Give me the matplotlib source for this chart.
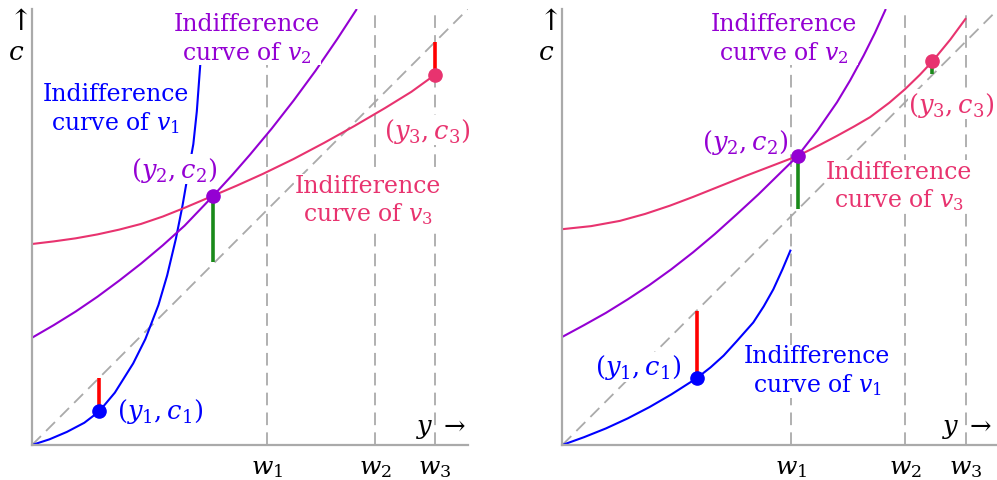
import matplotlib.pyplot as plt

plt.rcParams["font.family"] = ["DejaVu Serif"]
plt.rcParams["mathtext.fontset"] = "dejavuserif"

BLUE = "#0000ff"
PURPLE = "#9400d3"
PINK = "#e8336f"
RED = "#ff0000"
GREEN = "#1a8a1a"
GRAY = "#aaaaaa"

w_labels = ["$w_1$", "$w_2$", "$w_3$"]

# ---- left panel (unit square) ----
L_w = [0.538, 0.787, 0.924]
L_v1_x = [0.0, 0.04, 0.08, 0.12, 0.154, 0.19, 0.232, 0.26, 0.29, 0.31, 0.33, 0.345, 0.358, 0.370, 0.378, 0.385, 0.392]
L_v1_y = [0.0, 0.013, 0.030, 0.051, 0.077, 0.120, 0.187, 0.243, 0.321, 0.389, 0.473, 0.548, 0.623, 0.690, 0.765, 0.860, 0.950]
L_v2_x = [0.0, 0.05, 0.10, 0.15, 0.20, 0.25, 0.30, 0.35, 0.416, 0.46, 0.50, 0.55, 0.60, 0.65, 0.70, 0.745]
L_v2_y = [0.246, 0.275, 0.306, 0.340, 0.377, 0.416, 0.458, 0.503, 0.572, 0.620, 0.666, 0.726, 0.790, 0.858, 0.931, 1.0]
L_v3_x = [0.0, 0.05, 0.10, 0.15, 0.20, 0.25, 0.30, 0.35, 0.416, 0.47, 0.53, 0.60, 0.67, 0.74, 0.81, 0.87, 0.924]
L_v3_y = [0.461, 0.467, 0.474, 0.483, 0.494, 0.507, 0.524, 0.544, 0.572, 0.595, 0.622, 0.656, 0.693, 0.732, 0.773, 0.810, 0.849]
L_pts_x = [0.154, 0.416, 0.924]
L_pts_y = [0.077, 0.572, 0.849]
L_seg_top = [0.154, 0.419, 0.925]
L_seg_col = [RED, GREEN, RED]

# ---- right panel ----
R_w = [0.524, 0.786, 0.926]
R_v1_x = [0.0, 0.05, 0.10, 0.15, 0.20, 0.25, 0.308, 0.34, 0.37, 0.40, 0.438, 0.462, 0.484, 0.505, 0.524]
R_v1_y = [0.0, 0.018, 0.038, 0.061, 0.087, 0.116, 0.153, 0.178, 0.205, 0.238, 0.281, 0.318, 0.357, 0.403, 0.448]
R_v2_x = [0.0, 0.05, 0.10, 0.15, 0.20, 0.25, 0.30, 0.35, 0.40, 0.45, 0.50, 0.54, 0.585, 0.63, 0.66, 0.691, 0.717, 0.742]
R_v2_y = [0.248, 0.275, 0.303, 0.334, 0.367, 0.403, 0.442, 0.484, 0.529, 0.575, 0.624, 0.663, 0.721, 0.786, 0.836, 0.893, 0.945, 1.0]
R_v3_x = [0.0, 0.066, 0.132, 0.19, 0.247, 0.30, 0.36, 0.42, 0.48, 0.54, 0.59, 0.63, 0.67, 0.706, 0.75, 0.786, 0.82, 0.849, 0.89, 0.926]
R_v3_y = [0.495, 0.502, 0.514, 0.530, 0.549, 0.569, 0.593, 0.617, 0.640, 0.663, 0.688, 0.709, 0.731, 0.752, 0.785, 0.816, 0.849, 0.880, 0.930, 0.979]
R_pts_x = [0.308, 0.540, 0.849]
R_pts_y = [0.153, 0.663, 0.880]
R_seg_top = [0.308, 0.541, 0.851]
R_seg_col = [RED, GREEN, GREEN]

fig = plt.figure(figsize=(9.97, 4.81), dpi=100)
axL = fig.add_axes([32 / 997, 35 / 481, 436 / 997, 436 / 481])
axR = fig.add_axes([562.3 / 997, 35 / 481, 436 / 997, 436 / 481])


def draw_panel(ax, w, v1, v2, v3, pts_x, pts_y, seg_top, seg_col):
    ax.set_xlim(0, 1)
    ax.set_ylim(0, 1)
    ax.set_xticks([])
    ax.set_yticks([])
    for s in ["top", "right"]:
        ax.spines[s].set_visible(False)
    for s in ["left", "bottom"]:
        ax.spines[s].set_color(GRAY)
        ax.spines[s].set_linewidth(1.6)
    dash = dict(color=GRAY, lw=1.3, dashes=(7, 4), zorder=1)
    ax.plot([0, 1], [0, 1], **dash)
    for xi, lab in zip(w, w_labels):
        ax.plot([xi, xi], [0, 1], **dash)
        ax.text(xi, -0.052, lab, ha="center", va="center", fontsize=18, clip_on=False)
    for (cx, cy), col in zip([v1, v2, v3], [BLUE, PURPLE, PINK]):
        ax.plot(cx, cy, color=col, lw=1.5, zorder=2, solid_capstyle="butt")
    for xi, yi, top, col in zip(pts_x, pts_y, seg_top, seg_col):
        ax.plot([xi, xi], [yi, top], color=col, lw=2.6, zorder=3, solid_capstyle="butt")
    for xi, yi, col in zip(pts_x, pts_y, [BLUE, PURPLE, PINK]):
        ax.plot(xi, yi, "o", color=col, ms=9.5, zorder=5)
    ax.text(-0.037, 0.972, r"$\uparrow$", ha="center", va="center", fontsize=21, clip_on=False)
    ax.text(-0.037, 0.902, "$c$", ha="center", va="center", fontsize=19, clip_on=False)


def label(ax, x, y, s, col, size=17):
    ax.text(x, y, s, color=col, ha="center", va="center", fontsize=size, zorder=4,
            bbox=dict(facecolor="white", edgecolor="none", pad=0.5), clip_on=False)


draw_panel(axL, L_w, (L_v1_x, L_v1_y), (L_v2_x, L_v2_y), (L_v3_x, L_v3_y),
           L_pts_x, L_pts_y, L_seg_top, L_seg_col)
label(axL, 0.493, 0.933, "Indifference\ncurve of $v_2$", PURPLE)
label(axL, 0.192, 0.771, "Indifference\ncurve of $v_1$", BLUE)
label(axL, 0.326, 0.633, "$(y_2, c_2)$", PURPLE, 18.5)
label(axL, 0.295, 0.078, "$(y_1, c_1)$", BLUE, 18.5)
label(axL, 0.906, 0.722, "$(y_3, c_3)$", PINK, 18.5)
label(axL, 0.771, 0.562, "Indifference\ncurve of $v_3$", PINK)
axL.text(0.938, 0.041, r"$y\;\rightarrow$", ha="center", va="center", fontsize=18.5)

draw_panel(axR, R_w, (R_v1_x, R_v1_y), (R_v2_x, R_v2_y), (R_v3_x, R_v3_y),
           R_pts_x, R_pts_y, R_seg_top, R_seg_col)
label(axR, 0.508, 0.933, "Indifference\ncurve of $v_2$", PURPLE)
label(axR, 0.419, 0.695, "$(y_2, c_2)$", PURPLE, 18.5)
label(axR, 0.893, 0.782, "$(y_3, c_3)$", PINK, 18.5)
label(axR, 0.772, 0.594, "Indifference\ncurve of $v_3$", PINK)
label(axR, 0.174, 0.179, "$(y_1, c_1)$", BLUE, 18.5)
label(axR, 0.584, 0.170, "Indifference\ncurve of $v_1$", BLUE)
axR.text(0.927, 0.041, r"$y\;\rightarrow$", ha="center", va="center", fontsize=18.5, clip_on=False)

fig.savefig("out.png", dpi=100)
